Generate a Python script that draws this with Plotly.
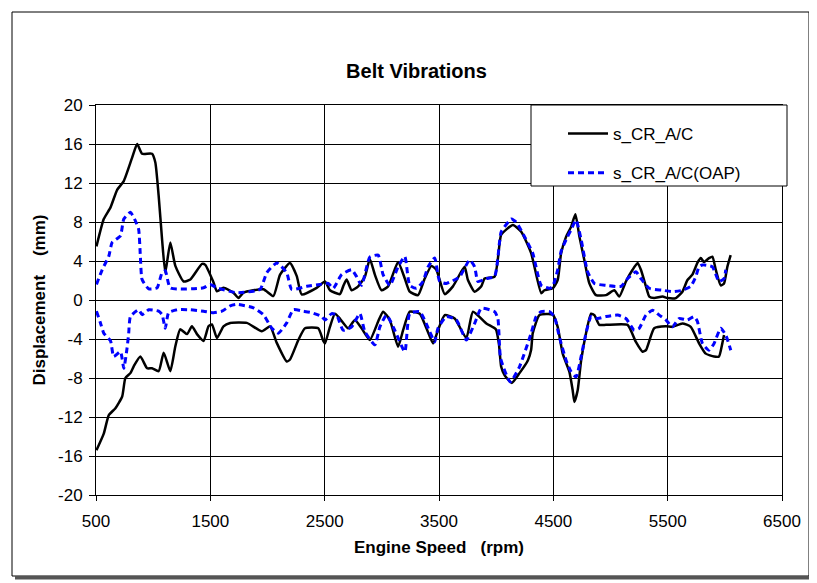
import plotly.graph_objects as go

# ---------------- data ----------------
# s_CR_A/C  : upper envelope
ac_up_rpm = [504, 568, 627, 685, 743, 816, 860, 903, 990, 1019, 1048, 1078, 1106, 1150, 1194, 1266, 1325,
             1427, 1456, 1528, 1558, 1615, 1702, 1746, 1790, 1964, 2051, 2110, 2197, 2256, 2299, 2430, 2503,
             2546, 2633, 2662, 2692, 2736, 2793, 2852, 2895, 2939, 2997, 3055, 3142, 3201, 3244, 3317, 3375,
             3434, 3477, 3550, 3622, 3724, 3753, 3812, 3870, 3899, 3986, 4030, 4044, 4146, 4219, 4306, 4394,
             4422, 4495, 4538, 4568, 4612, 4655, 4693, 4728, 4771, 4815, 4873, 4961, 5033, 5077, 5135, 5193,
             5237, 5266, 5310, 5339, 5382, 5455, 5498, 5572, 5629, 5673, 5716, 5760, 5790, 5818, 5862, 5891,
             5921, 5964, 5993, 6022, 6051]
ac_up_mm = [5.5, 8.3, 9.5, 11.3, 12.2, 14.6, 16.0, 15.0, 15.0, 14.1, 10.7, 6.2, 2.8, 5.9, 3.5, 1.9, 2.1,
            3.7, 3.6, 1.8, 0.9, 1.25, 0.75, 0.2, 0.75, 1.1, 0.4, 2.6, 3.8, 2.45, 0.57, 1.25, 1.9,
            1.0, 0.6, 1.4, 2.1, 1.0, 1.4, 2.4, 4.2, 2.6, 1.0, 1.4, 3.9, 2.2, 0.85, 0.5, 2.2,
            3.5, 3.1, 0.6, 1.4, 3.4, 2.05, 0.85, 1.4, 2.2, 2.4, 5.8, 6.7, 7.7, 7.0, 4.8, 0.7,
            1.0, 1.2, 2.05, 4.8, 6.5, 7.5, 8.8, 6.5, 4.1, 1.7, 0.5, 0.5, 1.0, 0.35, 1.9, 3.1,
            3.8, 3.1, 1.4, 0.35, 0.2, 0.35, 0.2, 0.2, 0.85, 2.05, 2.6, 3.8, 4.3, 3.9, 4.3, 4.45,
            3.1, 1.5, 1.7, 3.4, 4.6]

# s_CR_A/C  : lower envelope
ac_lo_rpm = [504, 568, 612, 670, 729, 757, 801, 830, 888, 947, 990, 1048, 1092, 1150, 1194, 1237, 1296,
             1339, 1383, 1441, 1484, 1514, 1558, 1615, 1674, 1819, 1950, 2023, 2081, 2168, 2197, 2270, 2328,
             2444, 2488, 2503, 2546, 2590, 2633, 2706, 2764, 2823, 2895, 2968, 3011, 3070, 3142, 3186, 3244,
             3332, 3390, 3448, 3491, 3550, 3637, 3739, 3797, 3914, 3997, 4024, 4044, 4073, 4137, 4204, 4277,
             4306, 4320, 4379, 4495, 4538, 4582, 4640, 4669, 4684, 4713, 4743, 4786, 4830, 4859, 4902, 4961,
             5149, 5222, 5280, 5310, 5382, 5484, 5542, 5629, 5702, 5775, 5833, 5906, 5949, 5978, 5993]
ac_lo_mm = [-15.4, -13.7, -11.8, -11.1, -9.9, -8.0, -7.5, -6.8, -5.8, -7.0, -7.0, -7.3, -5.4, -7.3, -4.75, -3.0, -3.5,
            -2.7, -3.5, -4.2, -2.7, -2.5, -3.9, -2.7, -2.35, -2.35, -3.2, -2.7, -4.4, -6.3, -6.1, -4.1, -2.9,
            -2.9, -4.2, -4.45, -2.75, -1.4, -1.9, -2.9, -2.05, -2.9, -4.1, -2.2, -1.2, -2.05, -4.8, -3.1, -1.2,
            -1.4, -2.9, -4.45, -3.1, -1.55, -1.9, -3.9, -1.2, -2.4, -3.0, -4.5, -6.85, -7.7, -8.5, -7.5, -6.2,
            -5.1, -3.4, -1.55, -1.5, -2.75, -5.5, -7.35, -9.25, -10.45, -9.25, -6.2, -3.4, -1.4, -1.55, -2.55, -2.55,
            -2.55, -4.3, -5.3, -5.15, -2.9, -2.7, -2.75, -2.4, -2.75, -4.45, -5.5, -5.8, -5.8, -4.45, -3.6]

# s_CR_A/C(OAP) : upper envelope
oap_up_rpm = [504, 554, 612, 641, 714, 743, 801, 845, 873, 888, 903, 961, 1034, 1078, 1106, 1150, 1441,
              1499, 1558, 1732, 1935, 1994, 2081, 2168, 2212, 2343, 2459, 2531, 2575, 2648, 2736, 2779, 2823,
              2895, 2968, 3011, 3070, 3142, 3201, 3244, 3303, 3360, 3404, 3462, 3506, 3565, 3681, 3768, 3812,
              3840, 3914, 3986, 4030, 4044, 4132, 4175, 4248, 4320, 4394, 4466, 4495, 4538, 4568, 4612, 4655,
              4699, 4743, 4800, 4859, 4961, 5092, 5150, 5222, 5266, 5339, 5455, 5542, 5629, 5702, 5746, 5775,
              5804, 5891, 5949, 5993, 6008]
oap_up_mm = [1.6, 3.1, 4.5, 5.9, 6.6, 8.3, 9.0, 8.1, 7.25, 4.5, 2.1, 1.15, 1.25, 2.8, 3.0, 1.25, 1.25,
             1.6, 1.25, 0.75, 1.1, 2.8, 3.8, 2.8, 1.1, 1.4, 1.6, 1.7, 1.2, 2.6, 3.1, 2.4, 1.5,
             4.4, 4.6, 2.6, 1.5, 3.4, 4.45, 1.5, 1.2, 1.9, 3.4, 4.3, 1.9, 1.7, 2.4, 4.1, 3.4,
             1.9, 2.2, 2.4, 6.0, 7.0, 8.3, 8.0, 6.5, 4.8, 1.5, 1.2, 1.4, 3.1, 5.0, 6.2, 7.2,
             8.2, 6.2, 2.9, 1.7, 1.5, 1.4, 2.2, 2.9, 2.2, 1.2, 1.0, 0.85, 1.0, 1.4, 2.4, 3.4,
             3.6, 3.4, 1.9, 2.2, 3.1]

# s_CR_A/C(OAP) : lower envelope
oap_lo_rpm = [504, 539, 568, 627, 655, 714, 743, 772, 786, 801, 873, 903, 961, 1048, 1078, 1106, 1135,
              1209, 1325, 1441, 1528, 1601, 1674, 1732, 1877, 1964, 2038, 2095, 2168, 2226, 2313, 2387, 2474,
              2503, 2561, 2605, 2662, 2736, 2808, 2852, 2939, 2983, 3041, 3113, 3201, 3244, 3332, 3419, 3462,
              3491, 3565, 3652, 3739, 3812, 3870, 3986, 4015, 4039, 4123, 4204, 4306, 4350, 4394, 4466, 4509,
              4553, 4612, 4655, 4699, 4743, 4786, 4830, 4887, 4961, 5062, 5135, 5208, 5251, 5310, 5367, 5426,
              5484, 5542, 5600, 5673, 5731, 5760, 5804, 5862, 5906, 5964, 6008, 6052]
oap_lo_mm = [-1.15, -2.35, -3.4, -4.2, -5.8, -5.3, -7.0, -4.9, -3.4, -1.7, -1.0, -1.5, -1.0, -1.15, -1.5, -2.9, -1.3,
             -1.0, -1.0, -1.15, -1.3, -1.15, -0.6, -0.45, -0.8, -1.5, -2.9, -3.4, -2.35, -1.0, -1.15, -1.3, -1.7,
             -2.05, -1.4, -1.55, -3.1, -2.75, -1.4, -3.25, -4.6, -2.75, -1.55, -3.1, -5.3, -1.4, -1.2, -3.25, -4.3,
             -2.9, -1.7, -2.05, -4.1, -2.4, -0.85, -1.2, -1.9, -6.0, -8.4, -6.85, -3.4, -1.7, -1.2, -1.2, -1.7,
             -3.8, -6.2, -7.35, -7.9, -5.8, -3.4, -1.7, -1.9, -1.7, -1.55, -1.9, -3.1, -2.9, -1.55, -1.05, -1.55,
             -2.05, -2.75, -1.9, -2.05, -1.7, -2.2, -4.45, -5.15, -4.45, -2.9, -3.6, -5.15]

series_names = ["s_CR_A/C", "s_CR_A/C(OAP)"]
x_ticks = [500, 1500, 2500, 3500, 4500, 5500, 6500]
y_ticks = [-20, -16, -12, -8, -4, 0, 4, 8, 12, 16, 20]
y_tick_labels = ["-20", "-16", "-12", "-8", "-4", "0", "4", "8", "12", "16", "20"]

# ---------------- figure ----------------
# The page body adds an 8 px margin, so the figure is drawn 8 px smaller and all
# reference-pixel positions below are shifted by OFF.
OFF = 8
W, H = 817 - OFF, 583 - OFF
# plot area in reference pixels: x 96..782, y 105..495
PX0, PX1, PY0, PY1 = 96 - OFF, 782 - OFF, 105 - OFF, 495 - OFF
ML, MR, MT, MB = PX0, W - PX1, PY0, H - PY1
PW, PH = PX1 - PX0, PY1 - PY0


def px_x(p):
    return (p - OFF - PX0) / PW


def px_y(p):
    return (PY1 - (p - OFF)) / PH


FONT = "Liberation Sans, Arial, sans-serif"
FS = 17

fig = go.Figure()
fig.add_trace(go.Scatter(
    x=ac_up_rpm + [None] + ac_lo_rpm, y=ac_up_mm + [None] + ac_lo_mm,
    mode="lines", name=series_names[0], legendgroup="a",
    line=dict(color="black", width=2.5, shape="spline", smoothing=0.5),
))
fig.add_trace(go.Scatter(
    x=oap_up_rpm + [None] + oap_lo_rpm, y=oap_up_mm + [None] + oap_lo_mm,
    mode="lines", name=series_names[1], legendgroup="b",
    line=dict(color="#0000ff", width=3, dash="6px,4px", shape="spline", smoothing=0.5),
))

shapes = [
    # chart shadow
    dict(type="line", xref="paper", yref="paper", x0=px_x(811), x1=px_x(811), y0=px_y(15), y1=px_y(579),
         line=dict(color="#555555", width=3)),
    dict(type="line", xref="paper", yref="paper", x0=px_x(15), x1=px_x(812), y0=px_y(578), y1=px_y(578),
         line=dict(color="#555555", width=3)),
    # chart frame
    dict(type="rect", xref="paper", yref="paper", x0=px_x(12), x1=px_x(809), y0=px_y(576), y1=px_y(12),
         line=dict(color="black", width=1)),
    # legend box
    dict(type="rect", xref="paper", yref="paper", x0=px_x(531), x1=px_x(787), y0=px_y(186), y1=px_y(105),
         line=dict(color="black", width=1), fillcolor="white", layer="above"),
]

axis_common = dict(
    showgrid=True, gridcolor="black", gridwidth=1,
    showline=True, linecolor="black", linewidth=1, mirror=True,
    ticks="outside", tickcolor="black", zeroline=False,
    tickfont=dict(family=FONT, size=FS, color="black"),
)

fig.update_layout(
    width=W, height=H,
    margin=dict(l=ML, r=MR, t=MT, b=MB, pad=0),
    paper_bgcolor="white", plot_bgcolor="white",
    font=dict(family=FONT, size=FS, color="black"),
    title=dict(text="<b>Belt Vibrations</b>", x=(416.5 - OFF) / W, xref="container", xanchor="center",
               y=1 - (70.5 - OFF) / H, yref="container", yanchor="middle",
               font=dict(family=FONT, size=20, color="black")),
    shapes=shapes,
    showlegend=True,
    legend=dict(x=px_x(563), y=px_y(116), xanchor="left", yanchor="top",
                bgcolor="rgba(0,0,0,0)", borderwidth=0, tracegroupgap=14,
                itemwidth=40, font=dict(family=FONT, size=FS, color="black")),
    xaxis=dict(range=[500, 6500], tickvals=x_ticks, ticktext=[str(v) for v in x_ticks],
               ticklen=5, ticklabelstandoff=6,
               title=dict(text="<b>Engine Speed\u00a0\u00a0\u00a0(rpm)</b>", standoff=10,
                          font=dict(family=FONT, size=FS)),
               **axis_common),
    yaxis=dict(range=[-20, 20], tickvals=y_ticks, ticktext=y_tick_labels,
               ticklen=6, ticklabelstandoff=3,
               title=dict(text="<b>Displacement\u00a0\u00a0\u00a0\u00a0(mm)</b>", standoff=8,
                          font=dict(family=FONT, size=FS)),
               **axis_common),
)

fig.write_html("out.html")
